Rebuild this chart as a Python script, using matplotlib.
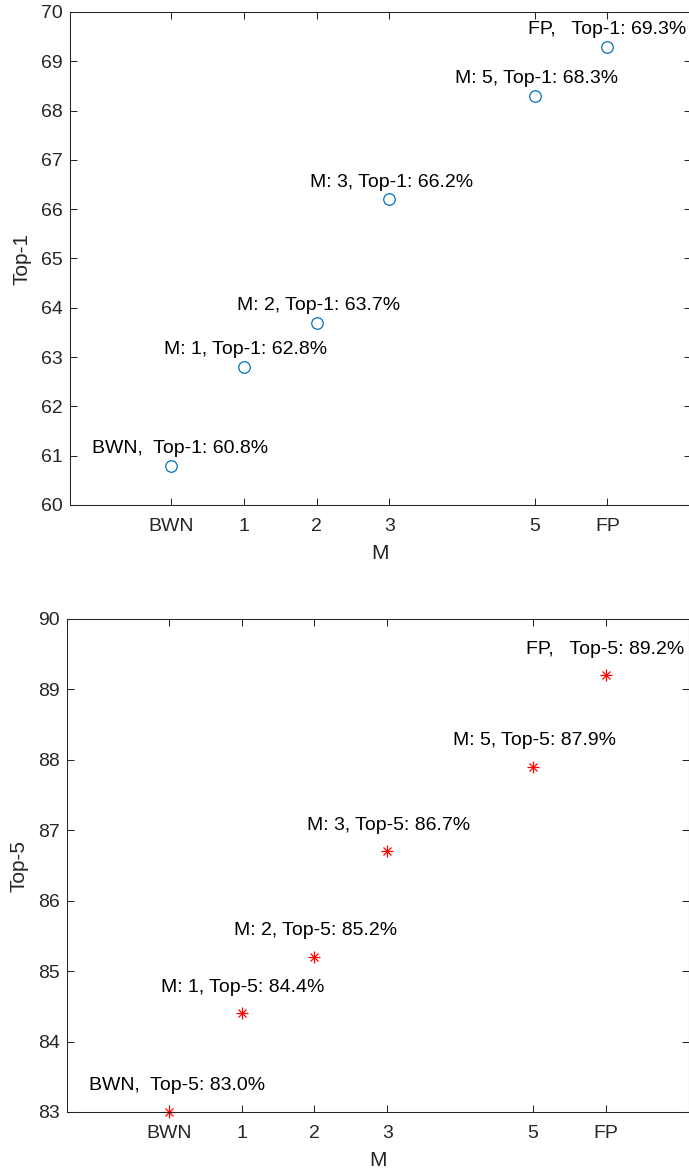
import numpy as np
import matplotlib.pyplot as plt

plt.rcParams['font.family'] = ['Liberation Sans', 'DejaVu Sans']
plt.rcParams['font.size'] = 14

# data
xpos = [0, 1, 2, 3, 5, 6]
xlabels = ['BWN', '1', '2', '3', '5', 'FP']
prefix = ['BWN,  ', 'M: 1, ', 'M: 2, ', 'M: 3, ', 'M: 5, ', 'FP,   ']
top1 = [60.8, 62.8, 63.7, 66.2, 68.3, 69.3]
top5 = [83.0, 84.4, 85.2, 86.7, 87.9, 89.2]

axc = '#262626'
W, H = 689., 1175.


def setup(ax, ylabel, ylim, yticks):
    ax.set_xlim(-1.4, 7.15)
    ax.set_ylim(ylim)
    ax.set_xticks(xpos)
    ax.set_xticklabels(xlabels)
    ax.set_yticks(yticks)
    ax.tick_params(direction='in', length=5, width=0.75, colors=axc,
                   top=True, right=True, labelsize=14)
    ax.tick_params(axis='x', pad=9)
    ax.tick_params(axis='y', pad=5)
    for s in ax.spines.values():
        s.set_color(axc)
        s.set_linewidth(0.75)
    ax.set_xlabel('M', color=axc, fontsize=15, labelpad=7)
    ax.set_ylabel(ylabel, color=axc, fontsize=15, labelpad=7)


fig = plt.figure(figsize=(W/100, H/100), dpi=100)

ax1 = fig.add_axes([69.7/W, 1-505/H, (691-69.7)/W, 493/H])
setup(ax1, 'Top-1', (60, 70), range(60, 71))
ax1.plot(xpos, top1, 'o', mfc='none', mec='#0072BD', ms=8.3, mew=0.9, clip_on=False)
for x, y, p in zip(xpos, top1, prefix):
    ax1.text(x-1.1, y+0.35, '%sTop-1: %.1f%%' % (p, y), ha='left', va='center',
             fontsize=14, color='k')

ax2 = fig.add_axes([66.7/W, 1-1112/H, (689.5-66.7)/W, 493/H])
setup(ax2, 'Top-5', (83, 90), range(83, 91))
ax2.plot(xpos, top5, '+', color='red', ms=9, mew=0.9, clip_on=False)
ax2.plot(xpos, top5, 'x', color='red', ms=9/np.sqrt(2), mew=0.9, clip_on=False)
for x, y, p in zip(xpos, top5, prefix):
    ax2.text(x-1.1, y+0.37, '%sTop-5: %.1f%%' % (p, y), ha='left', va='center',
             fontsize=14, color='k')

fig.savefig('out.png', dpi=100)
